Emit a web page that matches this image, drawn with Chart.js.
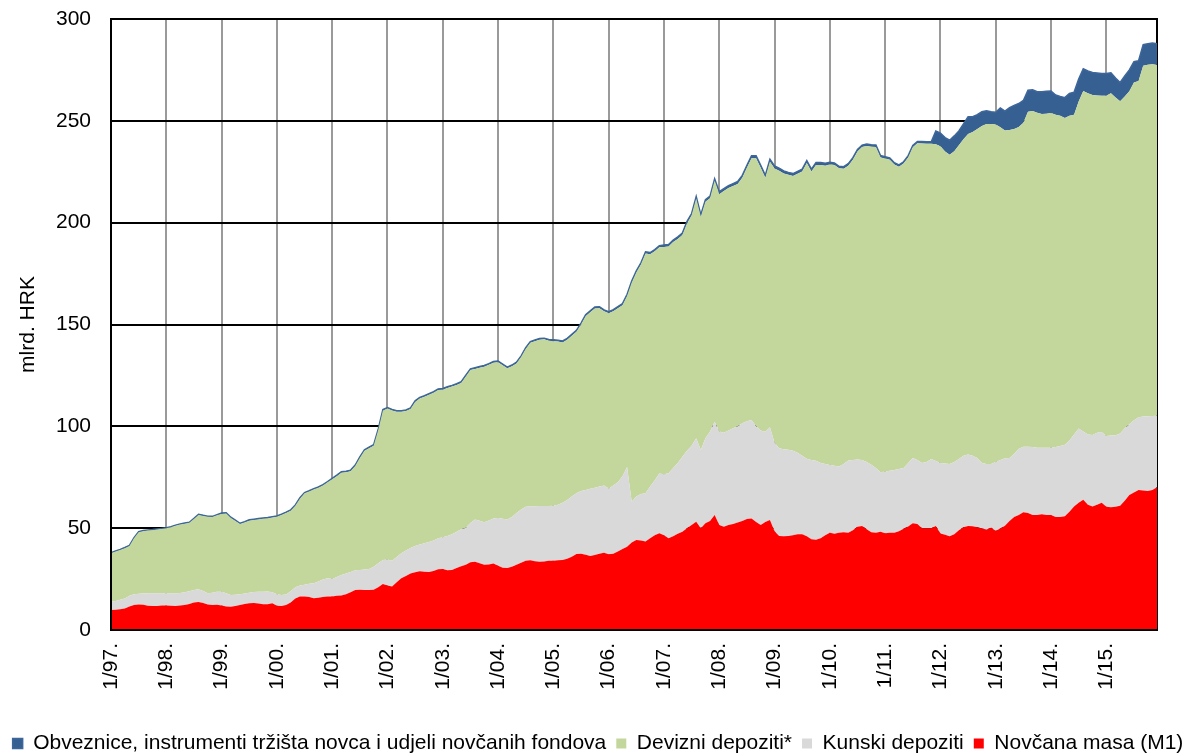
<!DOCTYPE html>
<html>
<head>
<meta charset="utf-8">
<script src="https://cdn.jsdelivr.net/npm/chart.js@4.4.1/dist/chart.umd.min.js"></script>
<style>
html,body{margin:0;padding:0;background:#fff;}
#wrap{width:1196px;height:755px;position:relative;}
</style>
</head>
<body>
<div id="wrap"><canvas id="c"></canvas></div>
<script>
// ---- Data (mlrd. HRK), monthly 1/1997 - 12/2015 ----
const years = ['97','98','99','00','01','02','03','04','05','06','07','08','09','10','11','12','13','14','15'];
const tickLabels = ['1/97.','1/98.','1/99.','1/00.','1/01.','1/02.','1/03.','1/04.','1/05.','1/06.','1/07.','1/08.','1/09.','1/10.','1/11.','1/12.','1/13.','1/14.','1/15.'];
const seriesNames = ['Obveznice, instrumenti tržišta novca i udjeli novčanih fondova','Devizni depoziti*','Kunski depoziti','Novčana masa (M1)'];

const novcanaMasa = [
9.8,10.0,10.2,10.5,11.5,12.3,12.5,12.4,11.9,11.8,11.8,12.0,
12.0,11.9,11.8,12.0,12.3,12.8,13.5,13.7,13.2,12.5,12.3,12.4,
12.0,11.5,11.4,11.8,12.3,12.8,13.1,13.3,13.0,12.6,12.6,13.1,
11.9,11.8,12.3,13.5,15.5,16.4,16.5,16.2,15.6,15.8,16.2,16.4,
16.4,16.8,17.0,17.5,18.5,19.6,19.8,19.7,19.6,19.8,21.0,22.6,
21.8,21.3,23.5,25.4,26.5,27.8,28.3,28.8,28.6,28.5,29.0,29.8,
30.0,29.3,29.5,30.5,31.3,32.0,33.3,33.5,32.8,32.0,32.2,32.7,
31.5,30.6,30.5,31.0,32.0,33.0,34.0,34.3,33.8,33.5,33.6,34.0,
34.0,34.2,34.4,35.0,36.0,37.3,37.5,37.0,36.3,36.8,37.5,37.9,
37.2,37.5,38.5,39.8,40.9,43.0,44.2,44.0,43.4,45.0,46.5,47.5,
46.5,45.0,46.0,47.3,48.3,50.0,51.5,53.2,49.9,52.4,53.5,56.5,
51.5,50.7,51.5,52.0,52.8,53.5,54.5,54.8,53.0,51.5,53.0,54.0,
48.5,46.1,46.0,46.1,46.5,47.0,47.0,46.0,44.5,44.3,45.0,46.5,
47.7,47.3,47.8,48.0,47.8,49.0,50.7,51.1,49.5,48.0,47.7,48.2,
47.5,47.7,47.7,48.5,49.7,50.8,52.4,52.0,50.0,50.0,50.0,51.1,
47.4,46.8,46.0,47.0,49.0,50.5,51.1,51.0,50.5,49.8,49.3,50.2,
48.7,49.8,51.2,53.5,55.5,56.5,57.8,57.5,56.5,56.5,56.8,56.5,
56.5,55.5,55.5,55.8,58.0,60.6,62.5,63.9,61.5,60.6,61.5,62.5,
60.5,60.3,60.5,61.0,63.5,66.3,67.5,68.8,68.5,68.2,68.8,70.1
];

const kunskiDepoziti = [
4.1,4.3,4.7,5.0,5.3,5.2,5.3,5.5,6.1,6.2,6.2,6.1,
6.1,6.1,6.2,6.2,6.2,6.2,6.1,6.3,6.0,5.6,6.0,6.4,
6.8,6.5,5.8,5.5,5.3,5.1,5.2,5.4,5.8,6.2,6.3,5.4,
5.6,5.4,5.1,5.5,5.5,5.4,5.7,6.5,7.4,8.0,8.6,9.0,
8.6,9.2,10.0,10.3,10.0,9.7,9.7,10.0,10.4,11.2,11.8,11.8,
12.8,12.7,12.3,12.3,12.5,12.5,12.9,13.2,14.0,14.7,15.0,15.2,
15.5,16.9,17.5,17.8,18.2,18.2,19.2,20.8,20.8,20.9,21.6,22.1,
23.5,24.0,23.8,24.5,25.5,26.2,26.5,26.4,27.0,27.4,27.3,26.9,
27.0,27.3,28.1,28.8,29.5,29.9,30.8,31.8,33.0,33.0,32.9,33.0,
32.3,33.5,34.0,35.7,39.1,20.0,21.3,22.8,23.7,25.5,27.0,29.4,
30.0,32.0,33.5,34.7,36.8,38.0,39.0,40.9,38.5,41.7,44.0,45.8,
46.0,46.2,46.5,47.0,47.2,48.0,48.0,48.3,47.0,46.5,44.4,45.5,
43.5,43.1,42.8,42.4,41.5,40.0,38.5,38.1,39.0,38.8,37.0,35.0,
33.3,33.3,32.5,33.5,35.4,34.5,33.0,32.4,33.0,33.1,31.8,29.3,
30.3,30.5,30.9,30.5,29.8,31.2,32.1,31.5,32.0,32.5,34.0,31.9,
34.6,35.0,35.5,35.5,35.0,35.0,35.1,34.5,34.0,32.2,32.2,31.3,
33.8,33.7,33.1,31.0,31.0,32.5,32.2,32.5,33.3,33.0,32.7,33.0,
33.0,34.3,34.8,35.2,35.0,35.4,36.4,33.6,34.5,35.1,35.3,34.7,
34.8,35.2,35.1,35.5,35.5,34.7,35.5,35.7,36.3,36.8,36.3,35.1
];

const devizniDepoziti = [
23.8,24.2,24.4,24.7,24.4,27.5,30.2,30.6,30.8,31.0,31.3,31.5,
31.8,32.4,33.2,33.6,33.7,33.6,34.9,36.5,36.8,37.5,37.2,37.5,
38.2,39.2,37.8,36.2,34.4,34.9,35.4,35.3,35.5,35.8,35.9,36.7,
38.1,39.3,40.1,39.6,40.0,42.7,44.9,45.3,46.0,46.0,46.2,47.1,
49.0,49.5,50.2,49.7,49.5,51.2,55.0,58.3,59.3,59.5,65.4,73.3,
74.1,73.8,71.4,69.5,68.5,68.2,70.8,71.7,71.9,72.3,72.5,72.8,
72.5,72.6,72.5,72.0,71.8,74.3,75.1,73.9,75.2,76.4,76.4,76.4,
76.5,75.4,74.2,74.0,73.4,74.8,77.5,80.3,81.0,81.6,81.8,81.1,
80.8,80.1,78.7,78.7,79.0,79.2,81.7,85.3,86.7,88.1,87.6,85.6,
86.0,85.5,85.5,84.0,84.0,107.5,110.0,112.7,117.8,114.0,112.5,111.0,
111.5,111.3,111.0,110.0,108.8,111.6,113.0,117.8,114.5,116.2,114.5,118.3,
116.5,118.6,119.0,119.0,119.0,120.5,124.5,128.5,131.6,129.0,124.7,130.4,
134.6,136.3,135.4,135.0,134.9,137.0,139.6,145.2,141.6,145.2,146.3,146.5,
147.6,147.7,146.4,145.0,144.8,147.4,151.3,153.6,155.1,156.2,157.6,154.5,
153.7,152.7,149.9,148.5,149.5,150.0,152.5,155.5,156.9,156.3,154.8,155.5,
155.5,153.2,151.9,152.6,154.0,155.5,157.3,159.0,161.5,165.5,167.0,167.0,
165.7,163.3,161.0,161.0,159.5,158.0,159.0,164.5,165.0,164.5,163.8,164.0,
164.3,163.2,162.2,160.4,159.5,157.0,160.6,167.1,167.5,167.0,165.7,165.1,
167.0,168.1,165.9,163.1,163.0,163.5,165.8,165.0,172.2,172.5,172.7,172.2
];

const obveznice = [
0.3,0.3,0.3,0.3,0.3,0.3,0.3,0.3,0.3,0.3,0.3,0.3,
0.3,0.3,0.3,0.3,0.3,0.3,0.3,0.3,0.3,0.3,0.3,0.3,
0.4,0.4,0.4,0.4,0.4,0.4,0.4,0.4,0.4,0.4,0.4,0.4,
0.4,0.4,0.4,0.4,0.4,0.4,0.4,0.4,0.4,0.4,0.4,0.4,
0.5,0.5,0.5,0.5,0.5,0.5,0.5,0.5,0.5,0.5,0.5,0.5,
0.5,0.5,0.5,0.5,0.5,0.5,0.5,0.5,0.5,0.5,0.5,0.5,
0.6,0.6,0.6,0.6,0.6,0.6,0.6,0.6,0.6,0.6,0.6,0.6,
0.6,0.6,0.6,0.6,0.6,0.6,0.6,0.6,0.6,0.6,0.6,0.6,
0.7,0.7,0.7,0.7,0.7,0.7,0.7,0.7,0.7,0.7,0.7,0.7,
0.8,0.8,0.8,0.8,0.8,0.8,0.8,0.8,0.8,0.8,0.8,0.8,
1.0,1.0,1.0,1.0,1.0,1.0,1.0,1.0,1.0,1.0,1.0,1.0,
1.2,1.2,1.2,1.2,1.2,1.2,1.2,1.2,1.2,1.2,1.2,1.2,
1.2,1.2,1.2,1.2,1.2,1.2,1.2,1.2,1.2,1.2,1.2,1.2,
1.0,1.0,1.0,1.0,1.0,1.0,1.0,1.0,1.0,1.0,1.0,1.0,
0.9,0.9,0.9,0.9,0.9,0.9,0.9,0.9,0.9,0.9,0.9,6.5,
6.5,6.8,7.1,7.5,7.0,7.5,8.5,7.5,7.0,7.0,6.5,6.0,
6.0,9.5,9.5,11.0,11.5,11.5,11.0,10.5,10.4,10.3,11.0,11.0,
10.8,9.7,9.5,10.0,11.0,11.0,11.0,11.0,11.0,11.0,11.0,11.0,
11.0,10.0,9.5,9.2,10.0,10.5,10.2,10.0,10.4,10.4,10.4,10.5
];

// categories: m/yy.
const categories = [];
years.forEach(y => { for (let m = 1; m <= 12; m++) categories.push(m + '/' + y + '.'); });

const FONT = "'Liberation Sans', Arial, sans-serif";

const frame = {
  id: 'frame',
  beforeDatasetsDraw(chart) {
    const {ctx, chartArea: a} = chart;
    ctx.save();
    ctx.strokeStyle = '#000';
    ctx.lineWidth = 2;
    ctx.beginPath();
    ctx.moveTo(a.left, a.top); ctx.lineTo(a.right, a.top); ctx.lineTo(a.right, a.bottom);
    ctx.stroke();
    ctx.restore();
  },
  afterDatasetsDraw(chart) {
    const {ctx, chartArea: a} = chart;
    ctx.save();
    ctx.strokeStyle = '#000';
    ctx.lineWidth = 2;
    ctx.beginPath();
    ctx.moveTo(a.left, a.top); ctx.lineTo(a.left, a.bottom); ctx.lineTo(a.right, a.bottom);
    ctx.stroke();
    ctx.restore();
  }
};

new Chart(document.getElementById('c'), {
  type: 'line',
  data: {
    labels: categories,
    datasets: [
      { label: seriesNames[3], data: novcanaMasa, backgroundColor: '#ff0000', borderColor: '#ff0000', borderWidth: 0, fill: 'origin' },
      { label: seriesNames[2], data: kunskiDepoziti, backgroundColor: '#d9d9d9', borderColor: '#d9d9d9', borderWidth: 0, fill: '-1' },
      { label: seriesNames[1], data: devizniDepoziti, backgroundColor: '#c3d69b', borderColor: '#c3d69b', borderWidth: 0, fill: '-1' },
      { label: seriesNames[0], data: obveznice, backgroundColor: '#376092', borderColor: '#3d669a', borderWidth: 1.5, fill: '-1' }
    ]
  },
  options: {
    responsive: true,
    maintainAspectRatio: false,
    animation: false,
    devicePixelRatio: 1,
    layout: { padding: { left: 0, right: 0, top: 19, bottom: 0 } },
    elements: { line: { tension: 0 }, point: { radius: 0, hoverRadius: 0 } },
    plugins: {
      legend: {
        position: 'bottom',
        reverse: true,
        maxHeight: 32,
        labels: { font: { family: FONT, size: 21 }, color: '#000', boxWidth: 10, boxHeight: 10, padding: 10 }
      },
      tooltip: { enabled: false }
    },
    scales: {
      x: {
        type: 'category',
        offset: false,
        afterFit(scale) { scale.height = 93; scale.paddingLeft = 0; scale.paddingRight = 39; },
        ticks: {
          autoSkip: false, maxRotation: 90, minRotation: 90, padding: 13,
          font: { family: FONT, size: 21 }, color: '#000',
          callback: (v, i) => (i % 12 === 0 ? tickLabels[i / 12] : '')
        },
        grid: {
          drawTicks: false,
          lineWidth: 2,
          color: ctx => (ctx.index % 12 === 0 && ctx.index > 0) ? '#9a9a9a' : 'rgba(0,0,0,0)'
        },
        border: { display: true, color: '#000', width: 2 }
      },
      y: {
        stacked: true,
        min: 0, max: 300,
        afterFit(scale) { scale.width = 111; scale.paddingTop = 0; scale.paddingBottom = 0; },
        ticks: { stepSize: 50, padding: 20, font: { family: FONT, size: 21 }, color: '#000' },
        grid: { drawTicks: false, color: '#000', lineWidth: 2 },
        border: { display: true, color: '#000', width: 2 },
        title: { display: true, text: 'mlrd. HRK', font: { family: FONT, size: 21 }, color: '#000', padding: { top: 16, bottom: 4 } }
      }
    }
  },
  plugins: [frame]
});
</script>
</body>
</html>
